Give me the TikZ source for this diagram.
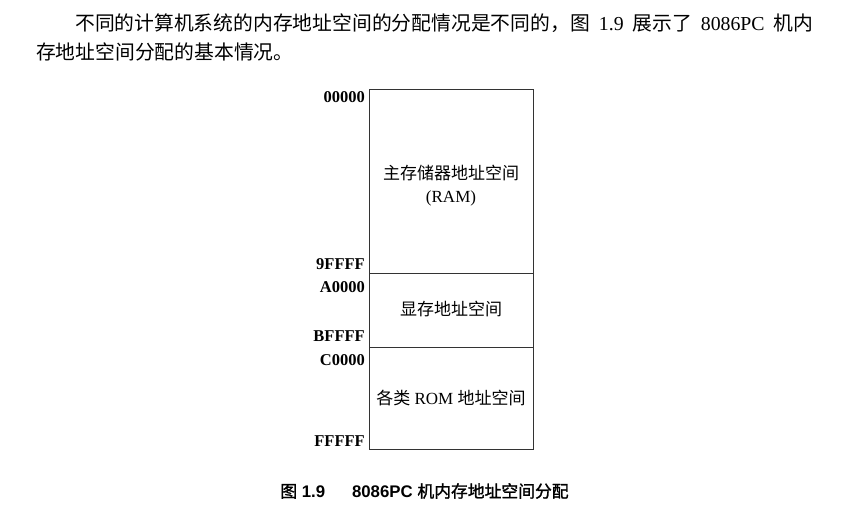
\documentclass[tikz,border=0pt]{standalone}
\usepackage{fontspec}
\setmainfont{Liberation Serif}
\setsansfont{Liberation Sans}
\newfontfamily\cjk{Noto Sans CJK SC}[AutoFakeBold=1.5]
\begin{document}
\begin{tikzpicture}[x=1pt,y=-1pt,
  region/.style={draw=black!80, line width=1.2pt, anchor=north west, inner sep=0pt},
  regiontext/.style={align=center, font=\fontsize{17}{23}\selectfont},
  addr/.style={anchor=east, inner sep=0pt, font=\fontsize{16.5}{18}\selectfont\bfseries},
  para/.style={anchor=west, inner sep=0pt, font=\fontsize{19.8}{22}\selectfont},
  captionstyle/.style={anchor=center, inner sep=0pt, font=\fontsize{16.8}{18}\selectfont\sffamily\bfseries}]
\useasboundingbox (0,0) rectangle (847,508);
\fill[white] (0,0) rectangle (847,508);
% paragraph
\node[para] (p1) at (75,23) {\makebox[738pt][s]{{\cjk 不同的计算机系统的内存地址空间的分配情况是不同的，图} 1.9 {\cjk 展示了} 8086PC {\cjk 机内}}};
\node[para] (p2) at (36,52) {\cjk 存地址空间分配的基本情况。};
% memory map
\node[region, minimum width=164pt, minimum height=184pt] (ram) at (369,89) {};
\node[regiontext] (ramt) at (451,186) {{\cjk 主存储器地址空间}\\(RAM)};
\node[region, minimum width=164pt, minimum height=74pt] (vram) at (369,273) {};
\node[regiontext] (vramt) at (451,309) {\cjk 显存地址空间};
\node[region, minimum width=164pt, minimum height=102pt] (rom) at (369,347) {};
\node[regiontext] (romt) at (451,398) {{\cjk 各类} ROM {\cjk 地址空间}};
% addresses
\node[addr] (a0) at (365,97) {00000};
\node[addr] (a1) at (365,264) {9FFFF};
\node[addr] (a2) at (365,287) {A0000};
\node[addr] (a3) at (365,336) {BFFFF};
\node[addr] (a4) at (365,360) {C0000};
\node[addr] (a5) at (365,441) {FFFFF};
% caption
\node[captionstyle] (caption) at (424.5,491) {{\cjk\bfseries 图} 1.9\hspace{1.6em}8086PC {\cjk\bfseries 机内存地址空间分配}};
\end{tikzpicture}
\end{document}
